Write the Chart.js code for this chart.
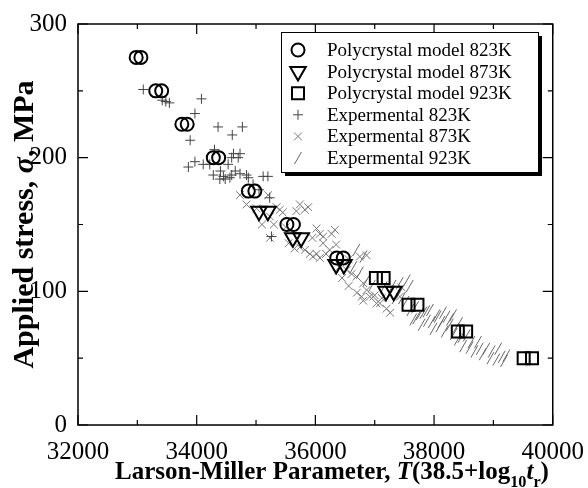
<!DOCTYPE html>
<html>
<head>
<meta charset="utf-8">
<script src="https://cdn.jsdelivr.net/npm/chart.js@4"></script>
<style>
  html, body { margin: 0; padding: 0; background: #fff; }
</style>
</head>
<body>
<canvas id="c" width="588" height="488"></canvas>
<script>
// model points (two slightly offset markers per stress level)
const modelX823 = [32980, 33060, 33310, 33410, 33750, 33840, 34280, 34370, 34870, 34980, 35520, 35630, 36360, 36470];
const modelY823 = [275, 275, 250, 250, 225, 225, 200, 200, 175, 175, 150, 150, 125, 125];
const modelX873 = [35050, 35200, 35620, 35760, 36350, 36480, 37190, 37320];
const modelY873 = [160, 160, 140, 140, 120, 120, 100, 100];
const modelX923 = [37020, 37150, 37570, 37720, 38400, 38540, 39510, 39650];
const modelY923 = [110, 110, 90, 90, 70, 70, 50, 50];

// experimental points
const exp823X = [33100, 33420, 33480, 33540, 34080, 33970, 33890, 34360, 34600, 34770, 34300, 34620, 34730, 34590, 34700,
  33860, 33970, 34110, 34220, 34530, 34280, 34450, 34590, 34730, 34840, 34390, 34480, 34560, 34870, 35120, 35200, 35230, 35260,
  34950, 35050, 34650, 34400];
const exp823Y = [251, 243, 242, 241, 244, 233, 213, 223, 217, 223, 206, 203, 203, 200, 200,
  193, 197, 195, 195, 195, 187, 186, 187, 188, 187, 184, 184, 185, 185, 186, 186, 170, 141,
  180, 176, 190, 190];

const exp873X = [34730, 34840, 35010, 35205, 35234, 35346, 35400, 35450, 35680, 35739, 35823, 35879, 35234, 36020, 36076, 36132,
  36273, 36329, 35739, 35823, 35907, 36020, 36076, 36526, 36610, 36694, 36806, 36863, 36975, 37087, 37199, 36750, 36863,
  37423, 37451, 35960, 36130, 36240, 36917, 37030, 36806, 37000,
  35300, 35500, 35550, 35650, 35950, 36180, 36400, 36450, 36560, 36700, 36780, 37120, 37260, 35100, 36350, 36560];
const exp873Y = [172, 165, 162, 172, 156, 163, 161, 159, 160, 165, 161, 163, 140, 147, 143, 141,
  143, 146, 133, 131, 128, 128, 125, 116, 113, 111, 106, 101, 96, 91, 87, 126, 127,
  96, 103, 126, 136, 131, 96, 91, 93, 97,
  150, 148, 136, 132, 140, 128, 118, 110, 104, 99, 96, 95, 84, 150, 135, 124];

const exp923X = [36640, 36750, 36860, 36950, 36690, 36810, 37150, 37250, 37350, 37420, 37540, 37590, 37420, 37650, 37700, 37820,
  37870, 37930, 37960, 38040, 38060, 38125, 38150, 38210, 38265, 38270, 38320, 38420, 38400, 38490, 38550, 38630, 38740,
  38770, 38880, 38970, 39080, 39140, 39220,
  37680, 37760, 37790, 37880, 37990, 38090, 38180, 38330, 38360, 38460, 38600, 38680, 38820, 38950, 39050, 39180,
  37300, 37460, 37520, 37600];
const exp923Y = [118, 114, 108, 104, 131, 126, 103, 98, 95, 106, 108, 104, 99, 79, 80, 84,
  85, 86, 77, 82, 81, 77, 84, 81, 75, 79, 82, 76, 64, 59, 67, 62, 62,
  57, 57, 55, 57, 51, 52,
  88, 83, 75, 78, 72, 74, 70, 68, 72, 66, 58, 55, 53, 50, 49, 48,
  104, 95, 92, 86];

const xTicks = [32000, 34000, 36000, 38000, 40000];
const yTicks = [0, 100, 200, 300];

const seriesNames = ['Polycrystal model 823K', 'Polycrystal model 873K', 'Polycrystal model 923K',
  'Expermental 823K', 'Expermental 873K', 'Expermental 923K'];

const SERIF = 'Liberation Serif';

function pts(xs, ys) {
  return xs.map((v, i) => ({ x: v, y: ys[i] }));
}

const datasets = [
  { label: seriesNames[0], data: pts(modelX823, modelY823), pointStyle: 'circle', pointRadius: 6.5,
    borderColor: '#000', pointBorderWidth: 2, backgroundColor: 'rgba(0,0,0,0)', order: 0 },
  { label: seriesNames[1], data: pts(modelX873, modelY873), pointStyle: 'triangle', pointRotation: 180, pointRadius: 9,
    borderColor: '#000', pointBorderWidth: 2, backgroundColor: 'rgba(0,0,0,0)', order: 0 },
  { label: seriesNames[2], data: pts(modelX923, modelY923), pointStyle: 'rect', pointRadius: 8.5,
    borderColor: '#000', pointBorderWidth: 2, backgroundColor: 'rgba(0,0,0,0)', order: 0 },
  { label: seriesNames[3], data: pts(exp823X, exp823Y), pointStyle: 'cross', pointRadius: 5,
    borderColor: '#444', pointBorderWidth: 1, backgroundColor: 'rgba(0,0,0,0)', order: 1 },
  { label: seriesNames[4], data: pts(exp873X, exp873Y), pointStyle: 'crossRot', pointRadius: 5.5,
    borderColor: '#777', pointBorderWidth: 1, backgroundColor: 'rgba(0,0,0,0)', order: 1 },
  { label: seriesNames[5], data: pts(exp923X, exp923Y), pointStyle: 'line', pointRotation: -60, pointRadius: 7,
    borderColor: '#666', pointBorderWidth: 1, backgroundColor: 'rgba(0,0,0,0)', order: 1 }
];

// text with italic / subscript pieces
function richWidth(ctx, parts, size) {
  let w = 0;
  parts.forEach(p => {
    const s = p.sub ? size * 0.65 : size;
    ctx.font = (p.it ? 'italic ' : '') + 'bold ' + s + 'px ' + SERIF;
    p.w = ctx.measureText(p.t).width;
    w += p.w;
  });
  return w;
}
function drawRich(ctx, parts, size, cx, cy) {
  const w = richWidth(ctx, parts, size);
  let x = cx - w / 2;
  ctx.textBaseline = 'alphabetic';
  ctx.textAlign = 'left';
  parts.forEach(p => {
    const s = p.sub ? size * 0.65 : size;
    ctx.font = (p.it ? 'italic ' : '') + 'bold ' + s + 'px ' + SERIF;
    ctx.fillText(p.t, x, cy + (p.sub ? size * 0.3 : 0));
    x += p.w;
  });
}

const framePlugin = {
  id: 'frame',
  afterDatasetsDraw(chart) {
    const { ctx, chartArea: a, scales: { x, y } } = chart;
    ctx.save();
    ctx.strokeStyle = '#000';
    ctx.lineWidth = 1.5;
    ctx.strokeRect(a.left, a.top, a.right - a.left, a.bottom - a.top);
    ctx.lineWidth = 1.2;
    ctx.beginPath();
    const xs = x.ticks.map(t => t.value);
    xs.forEach((v, i) => {
      const p = x.getPixelForValue(v);
      ctx.moveTo(p, a.bottom); ctx.lineTo(p, a.bottom - 10);
      ctx.moveTo(p, a.top); ctx.lineTo(p, a.top + 10);
      if (i < xs.length - 1) {
        const m = x.getPixelForValue((v + xs[i + 1]) / 2);
        ctx.moveTo(m, a.bottom); ctx.lineTo(m, a.bottom - 5);
        ctx.moveTo(m, a.top); ctx.lineTo(m, a.top + 5);
      }
    });
    const ys = y.ticks.map(t => t.value);
    ys.forEach((v, i) => {
      const p = y.getPixelForValue(v);
      ctx.moveTo(a.left, p); ctx.lineTo(a.left + 10, p);
      ctx.moveTo(a.right, p); ctx.lineTo(a.right - 10, p);
      if (i < ys.length - 1) {
        const m = y.getPixelForValue((v + ys[i + 1]) / 2);
        ctx.moveTo(a.left, m); ctx.lineTo(a.left + 5, m);
        ctx.moveTo(a.right, m); ctx.lineTo(a.right - 5, m);
      }
    });
    ctx.stroke();
    ctx.restore();
  },
  afterDraw(chart) {
    const { ctx, chartArea: a } = chart;
    ctx.save();
    ctx.fillStyle = '#000';
    // axis titles
    drawRich(ctx, [
      { t: 'Larson-Miller Parameter, ' }, { t: 'T', it: true }, { t: '(38.5+log' },
      { t: '10', sub: true }, { t: 't', it: true }, { t: 'r', sub: true }, { t: ')' }
    ], 25, 332, 479);
    ctx.save();
    ctx.translate(23, (a.top + a.bottom) / 2);
    ctx.rotate(-Math.PI / 2);
    drawRich(ctx, [{ t: 'Applied stress, ' }, { t: 'σ', it: true }, { t: ', MPa' }], 30, 0, 10);
    ctx.restore();

    // legend box with shadow
    const bx = 281, by = 32, bw = 257, bh = 140;
    ctx.fillStyle = '#000';
    ctx.fillRect(bx + 4, by + 4, bw, bh);
    ctx.fillStyle = '#fff';
    ctx.fillRect(bx, by, bw, bh);
    ctx.strokeStyle = '#000';
    ctx.lineWidth = 1;
    ctx.strokeRect(bx + 0.5, by + 0.5, bw, bh);
    chart.data.datasets.forEach((ds, i) => {
      const cy = by + 18 + i * 21.6;
      ctx.strokeStyle = ds.borderColor;
      ctx.fillStyle = 'rgba(0,0,0,0)';
      ctx.lineWidth = ds.pointBorderWidth;
      Chart.helpers.drawPoint(ctx, {
        pointStyle: ds.pointStyle, radius: ds.pointRadius, rotation: ds.pointRotation || 0,
        borderWidth: ds.pointBorderWidth
      }, bx + 17, cy);
      ctx.fillStyle = '#000';
      ctx.font = '19px ' + SERIF;
      ctx.textAlign = 'left';
      ctx.textBaseline = 'middle';
      ctx.fillText(ds.label, bx + 46, cy + 1);
    });
    ctx.restore();
  }
};

Chart.defaults.font.family = SERIF;

new Chart(document.getElementById('c'), {
  type: 'scatter',
  data: { datasets },
  options: {
    responsive: false,
    animation: false,
    devicePixelRatio: 1,
    events: [],
    layout: { padding: { top: 24, right: 35, left: 0, bottom: 0 } },
    plugins: { legend: { display: false }, tooltip: { enabled: false } },
    scales: {
      x: {
        type: 'linear', min: xTicks[0], max: xTicks[xTicks.length - 1],
        afterBuildTicks: s => { s.ticks = xTicks.map(v => ({ value: v })); },
        afterFit: s => { s.height = 63; },
        grid: { display: false }, border: { display: false },
        ticks: { color: '#000', padding: 4, maxRotation: 0, font: { family: SERIF, size: 25 },
          callback: v => String(v) }
      },
      y: {
        type: 'linear', min: yTicks[0], max: yTicks[yTicks.length - 1],
        afterBuildTicks: s => { s.ticks = yTicks.map(v => ({ value: v })); },
        afterFit: s => { s.width = 78; },
        grid: { display: false }, border: { display: false },
        ticks: { color: '#000', padding: 3, font: { family: SERIF, size: 25 },
          callback: v => String(v) }
      }
    }
  },
  plugins: [framePlugin]
});
</script>
</body>
</html>
